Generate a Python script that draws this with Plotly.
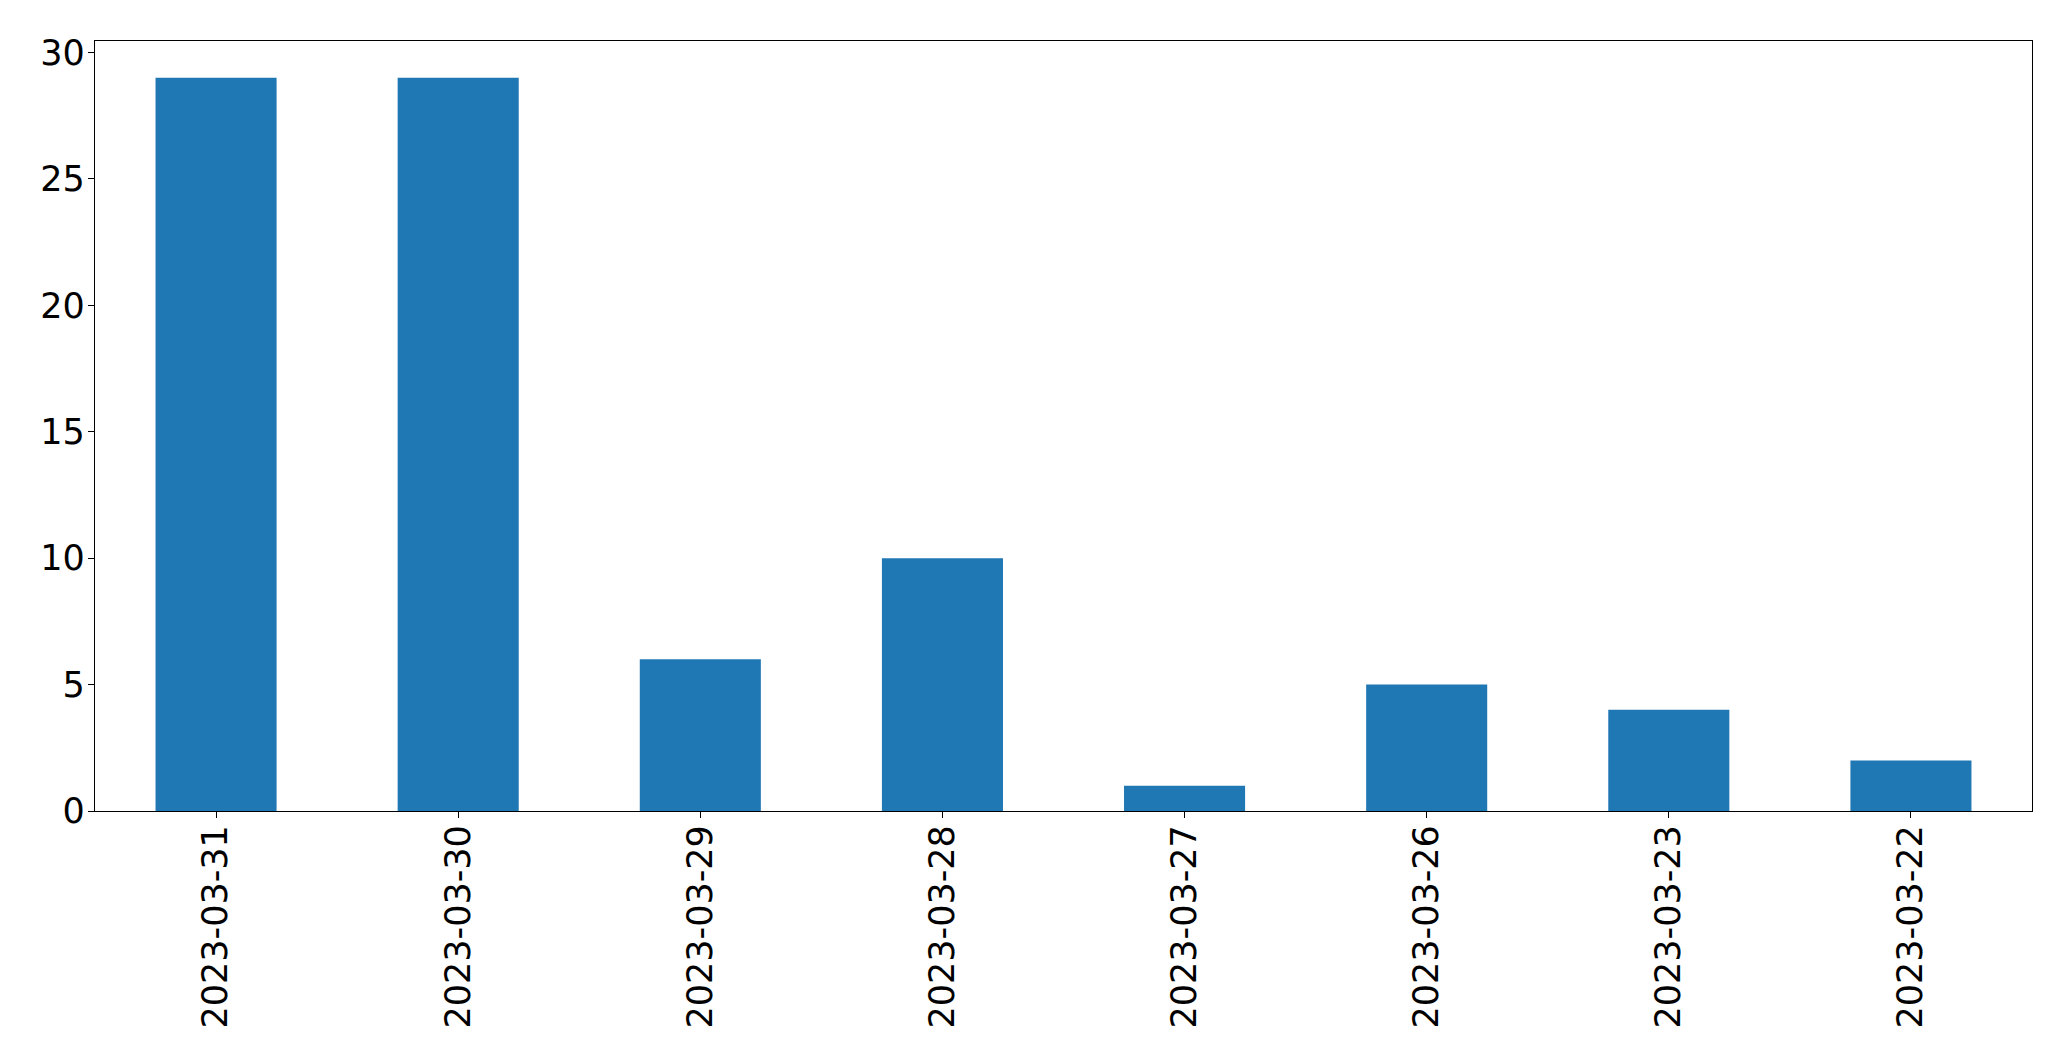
import plotly.graph_objects as go

dates = ["2023-03-31", "2023-03-30", "2023-03-29", "2023-03-28",
         "2023-03-27", "2023-03-26", "2023-03-23", "2023-03-22"]
counts = [29, 29, 6, 10, 1, 5, 4, 2]
y_ticks = [0, 5, 10, 15, 20, 25, 30]

fig = go.Figure(go.Bar(x=dates, y=counts, marker=dict(color="#1f77b4", line=dict(width=0)), width=0.5))

axis_common = dict(showline=True, linecolor="black", linewidth=1.3, mirror=True,
                   ticks="outside", ticklen=6, tickwidth=1.3, tickcolor="black",
                   showgrid=False, zeroline=False, automargin=False,
                   tickfont=dict(family="DejaVu Sans", size=35, color="black"))

fig.update_xaxes(type="category", range=[-0.5, 7.5], tickangle=-90, ticklabelstandoff=-7, **axis_common)
fig.update_yaxes(range=[0, 30.45], tickvals=y_ticks, ticklabelstandoff=-4, **axis_common)

fig.update_layout(width=2063, height=1055, plot_bgcolor="white", paper_bgcolor="white",
                  margin=dict(l=87, r=39, t=33, b=252), showlegend=False)

fig.write_html("out.html")
